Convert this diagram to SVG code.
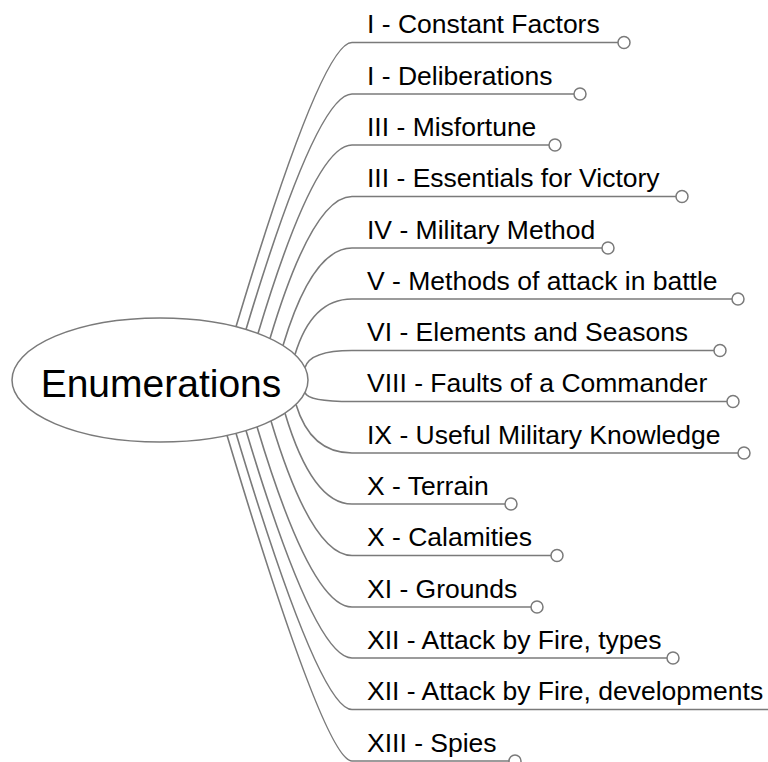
<svg xmlns="http://www.w3.org/2000/svg" width="768" height="762" viewBox="0 0 768 762">
<style>
.c{fill:none;stroke:#7a7a7a;stroke-width:1.6}
.u{fill:none;stroke:#7a7a7a;stroke-width:1.6}
.k{fill:#ffffff;stroke:#7a7a7a;stroke-width:1.5}
.t{font-family:"Liberation Sans",Arial,sans-serif;font-size:26.5px;fill:#000}
.m{font-family:"Liberation Sans",Arial,sans-serif;font-size:39px;fill:#000;text-anchor:middle}
</style>
<rect width="768" height="762" fill="#ffffff"/>
<g id="connectors">
<path class="c" d="M236 326.8 Q321.3 42.5 352 42.5"/>
<path class="c" d="M246 329.5 Q316.7 94 352 94"/>
<path class="c" d="M258 333.5 Q314.6 145 352 145"/>
<path class="c" d="M270 338.5 Q312.6 196.5 352 196.5"/>
<path class="c" d="M283 345.5 Q312.3 248 352 248"/>
<path class="c" d="M295 354.6 Q311.7 299 352 299"/>
<path class="c" d="M305 367.6 Q310.1 350.5 352 350.5"/>
<path class="c" d="M305 392.4 Q307.7 401.5 352 401.5"/>
<path class="c" d="M296 404.5 Q310.6 453 352 453"/>
<path class="c" d="M285 413.2 Q312.2 504 352 504"/>
<path class="c" d="M271 421 Q311.4 555.5 352 555.5"/>
<path class="c" d="M257 426.8 Q311 607 352 607"/>
<path class="c" d="M246 430.5 Q314.3 658 352 658"/>
<path class="c" d="M236 433.2 Q318.9 709.5 352 709.5"/>
<path class="c" d="M227 435.3 Q324.7 761 352 761"/>
</g>
<g id="central">
<ellipse class="k" cx="160" cy="380" rx="148" ry="62"/>
<text class="m" x="161" y="397">Enumerations</text>
</g>
<g id="n1"><path class="u" d="M352 42.5 H618"/><circle class="k" cx="624" cy="42.5" r="6"/><text class="t" x="367" y="33">I - Constant Factors</text></g>
<g id="n2"><path class="u" d="M352 94 H574"/><circle class="k" cx="580" cy="94" r="6"/><text class="t" x="367" y="84.5">I - Deliberations</text></g>
<g id="n3"><path class="u" d="M352 145 H549"/><circle class="k" cx="555" cy="145" r="6"/><text class="t" x="367" y="135.5">III - Misfortune</text></g>
<g id="n4"><path class="u" d="M352 196.5 H676"/><circle class="k" cx="682" cy="196.5" r="6"/><text class="t" x="367" y="187">III - Essentials for Victory</text></g>
<g id="n5"><path class="u" d="M352 248 H602"/><circle class="k" cx="608" cy="248" r="6"/><text class="t" x="367" y="238.5">IV - Military Method</text></g>
<g id="n6"><path class="u" d="M352 299 H732"/><circle class="k" cx="738" cy="299" r="6"/><text class="t" x="367" y="289.5">V - Methods of attack in battle</text></g>
<g id="n7"><path class="u" d="M352 350.5 H714"/><circle class="k" cx="720" cy="350.5" r="6"/><text class="t" x="367" y="341">VI - Elements and Seasons</text></g>
<g id="n8"><path class="u" d="M352 401.5 H727"/><circle class="k" cx="733" cy="401.5" r="6"/><text class="t" x="367" y="392">VIII - Faults of a Commander</text></g>
<g id="n9"><path class="u" d="M352 453 H738"/><circle class="k" cx="744" cy="453" r="6"/><text class="t" x="367" y="443.5">IX - Useful Military Knowledge</text></g>
<g id="n10"><path class="u" d="M352 504 H505"/><circle class="k" cx="511" cy="504" r="6"/><text class="t" x="367" y="494.5">X - Terrain</text></g>
<g id="n11"><path class="u" d="M352 555.5 H551"/><circle class="k" cx="557" cy="555.5" r="6"/><text class="t" x="367" y="546">X - Calamities</text></g>
<g id="n12"><path class="u" d="M352 607 H531"/><circle class="k" cx="537" cy="607" r="6"/><text class="t" x="367" y="597.5">XI - Grounds</text></g>
<g id="n13"><path class="u" d="M352 658 H667"/><circle class="k" cx="673" cy="658" r="6"/><text class="t" x="367" y="648.5">XII - Attack by Fire, types</text></g>
<g id="n14"><path class="u" d="M352 709.5 H770"/><text class="t" x="367" y="700">XII - Attack by Fire, developments</text></g>
<g id="n15"><path class="u" d="M352 761 H509"/><circle class="k" cx="515" cy="761" r="6"/><text class="t" x="367" y="751.5">XIII - Spies</text></g>
</svg>
